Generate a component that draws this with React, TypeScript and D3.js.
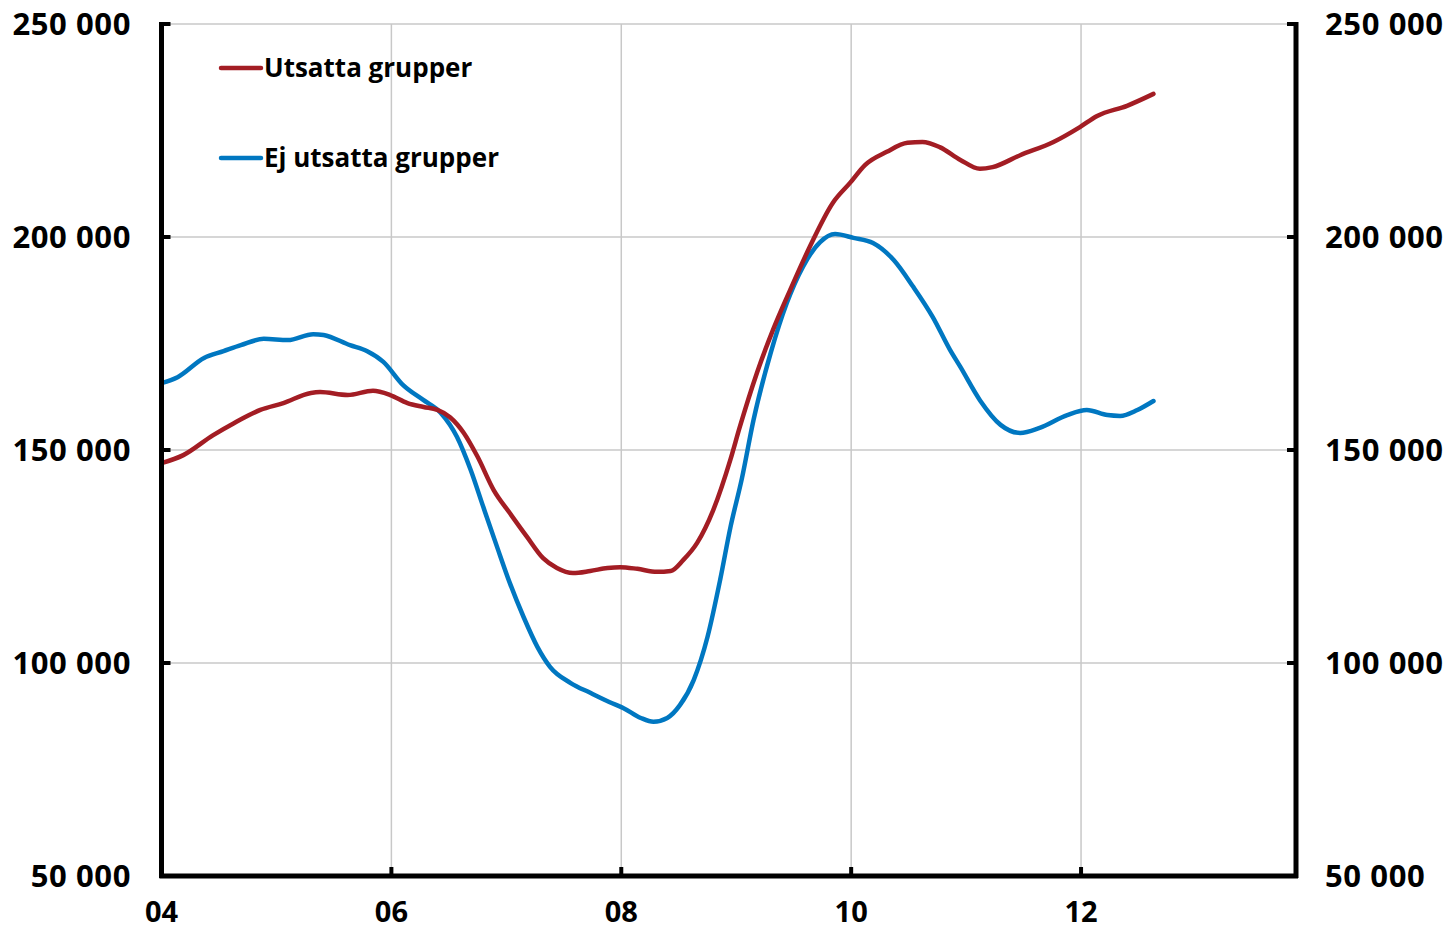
import React from "react";
import * as d3 from "d3";

const redTimes = [2004.0, 2004.19, 2004.45, 2004.63, 2004.86, 2005.06, 2005.3, 2005.38, 2005.62, 2005.84, 2005.99, 2006.14, 2006.28, 2006.4, 2006.51, 2006.63, 2006.75, 2006.89, 2007.03, 2007.18, 2007.32, 2007.44, 2007.58, 2007.73, 2007.88, 2007.99, 2008.14, 2008.31, 2008.43, 2008.54, 2008.66, 2008.8, 2008.95, 2009.03, 2009.18, 2009.32, 2009.47, 2009.64, 2009.84, 2009.99, 2010.12, 2010.31, 2010.49, 2010.62, 2010.77, 2010.95, 2011.12, 2011.23, 2011.47, 2011.76, 2011.99, 2012.14, 2012.4, 2012.63];
const redValues = [146900, 148800, 153500, 156300, 159400, 161000, 163400, 163600, 162900, 163900, 162900, 161000, 160100, 159400, 157700, 154000, 148400, 140600, 135200, 129600, 124600, 122300, 121100, 121600, 122300, 122500, 122100, 121400, 121600, 124200, 128200, 135900, 147800, 155300, 168100, 178200, 187600, 197700, 208000, 212700, 216900, 220000, 222100, 222300, 221100, 218100, 216000, 216400, 219200, 222300, 225800, 228400, 230800, 233600];

const blueTimes = [2004.0, 2004.14, 2004.37, 2004.54, 2004.69, 2004.89, 2005.1, 2005.32, 2005.41, 2005.64, 2005.79, 2005.93, 2006.1, 2006.28, 2006.43, 2006.57, 2006.69, 2006.8, 2006.92, 2007.03, 2007.15, 2007.27, 2007.38, 2007.56, 2007.73, 2007.9, 2008.02, 2008.17, 2008.28, 2008.4, 2008.51, 2008.63, 2008.75, 2008.86, 2008.95, 2009.05, 2009.15, 2009.3, 2009.44, 2009.58, 2009.73, 2009.86, 2010.02, 2010.19, 2010.37, 2010.54, 2010.71, 2010.86, 2010.95, 2011.12, 2011.3, 2011.47, 2011.64, 2011.88, 2012.05, 2012.23, 2012.34, 2012.49, 2012.63];
const blueValues = [165700, 167100, 171600, 173200, 174600, 176100, 175800, 177200, 177000, 174600, 173200, 170700, 165300, 161700, 158700, 153100, 145300, 136600, 127200, 118800, 110800, 103800, 99100, 95300, 93000, 90800, 89400, 87100, 86200, 87100, 90100, 96000, 106100, 119500, 131900, 143400, 157000, 172800, 184500, 193000, 198800, 200700, 199800, 198600, 194600, 188300, 181200, 173500, 169500, 161700, 155900, 154000, 155200, 158200, 159400, 158200, 158000, 159400, 161500];

const yTicks = [50000, 100000, 150000, 200000, 250000];
const xTicks = [2004, 2006, 2008, 2010, 2012];
const xTickLabels = ["04", "06", "08", "10", "12"];

const seriesNames = ["Utsatta grupper", "Ej utsatta grupper"];
const seriesColors = ["#a31d24", "#0077c1"];

const W = 1454;
const H = 930;
const left = 161.5;
const right = 1296;
const top = 24;
const bottom = 876;
const FONT = "'Open Sans', sans-serif";

export default function App() {
  const x = d3.scaleLinear().domain([2004, 2013.87]).range([left, right]);
  const y = d3.scaleLinear().domain([50000, 250000]).range([bottom, top]);
  const line = d3
    .line<[number, number]>()
    .x((d) => x(d[0]))
    .y((d) => y(d[1]))
    .curve(d3.curveMonotoneX);

  const redData: [number, number][] = redTimes.map((t, i) => [t, redValues[i]]);
  const blueData: [number, number][] = blueTimes.map((t, i) => [t, blueValues[i]]);
  const fmt = (v: number) => d3.format(",")(v).replace(/,/g, " ");

  return (
    <svg width={W} height={H} style={{ position: "absolute", left: 0, top: 0, background: "#fff" }}>
      {yTicks.slice(1).map((v) => (
        <line key={"gy" + v} x1={left} x2={right} y1={y(v)} y2={y(v)} stroke="#c8c8c8" strokeWidth={1.5} />
      ))}
      {xTicks.slice(1).map((t) => (
        <line key={"gx" + t} x1={x(t)} x2={x(t)} y1={top} y2={bottom} stroke="#c8c8c8" strokeWidth={1.5} />
      ))}
      <path d={line(blueData) || ""} fill="none" stroke={seriesColors[1]} strokeWidth={4.5} strokeLinejoin="round" strokeLinecap="round" />
      <path d={line(redData) || ""} fill="none" stroke={seriesColors[0]} strokeWidth={4.5} strokeLinejoin="round" strokeLinecap="round" />
      <line x1={left} x2={left} y1={top - 2} y2={bottom + 2} stroke="#000" strokeWidth={5} />
      <line x1={right} x2={right} y1={top - 2} y2={bottom + 2} stroke="#000" strokeWidth={5} />
      <line x1={left - 2} x2={right + 2} y1={bottom} y2={bottom} stroke="#000" strokeWidth={5} />
      {yTicks.map((v) => (
        <g key={"yt" + v}>
          <line x1={left} x2={left + 9} y1={y(v)} y2={y(v)} stroke="#000" strokeWidth={4} />
          <line x1={right - 9} x2={right} y1={y(v)} y2={y(v)} stroke="#000" strokeWidth={4} />
          <text x={131} y={y(v)} dy="0.36em" textAnchor="end" fontFamily={FONT} fontWeight={700} fontSize={31} letterSpacing={0.6} fill="#000">
            {fmt(v)}
          </text>
          <text x={1325} y={y(v)} dy="0.36em" textAnchor="start" fontFamily={FONT} fontWeight={700} fontSize={31} letterSpacing={0.6} fill="#000">
            {fmt(v)}
          </text>
        </g>
      ))}
      {xTicks.map((t, i) => (
        <g key={"xt" + t}>
          <line x1={x(t)} x2={x(t)} y1={bottom} y2={bottom - 9} stroke="#000" strokeWidth={4} />
          <text x={x(t)} y={922} textAnchor="middle" fontFamily={FONT} fontWeight={700} fontSize={29} fill="#000">
            {xTickLabels[i]}
          </text>
        </g>
      ))}
      {seriesNames.map((name, i) => (
        <g key={name} transform={`translate(0, ${68 + i * 90})`}>
          <line x1={221} x2={261} y1={0} y2={0} stroke={seriesColors[i]} strokeWidth={4.5} strokeLinecap="round" />
          <text x={264} y={0} dy="0.36em" fontFamily={FONT} fontWeight={700} fontSize={26} fill="#000">
            {name}
          </text>
        </g>
      ))}
    </svg>
  );
}
